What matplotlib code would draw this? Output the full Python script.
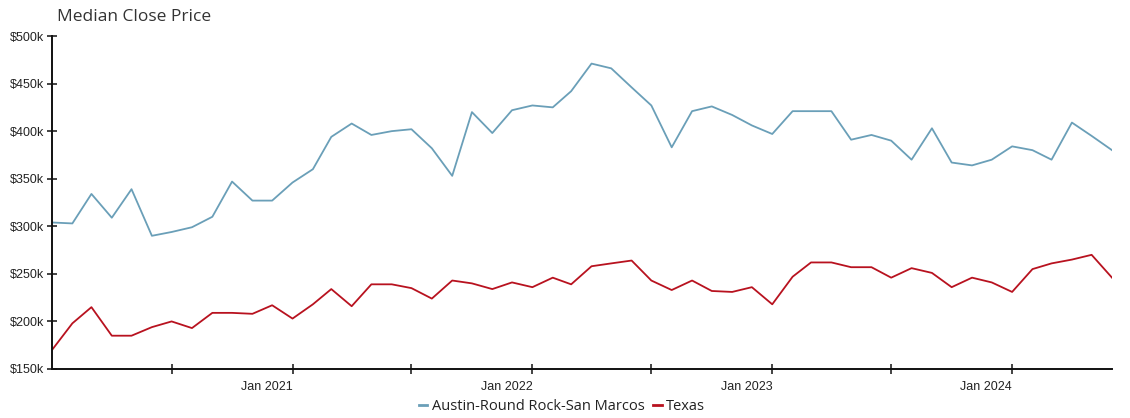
#!/usr/bin/env python3
"""Median close price: Austin-Round Rock-San Marcos vs Texas, monthly."""

import matplotlib
matplotlib.use("Agg")
import matplotlib.pyplot as plt
import matplotlib.dates as mdates
from matplotlib.lines import Line2D
from matplotlib.ticker import FuncFormatter
import pandas as pd

# monthly, Jan 2020 .. Jun 2024 (values in $k)
MONTHS = pd.date_range("2020-01-01", "2024-06-01", freq="MS")

AUSTIN = [
    304, 303, 334, 309, 339, 290, 294, 299, 310, 347, 327, 327,
    346, 360, 394, 408, 396, 400, 402, 382, 353, 420, 398, 422,
    427, 425, 442, 471, 466, 446, 427, 383, 421, 426, 417, 406,
    397, 421, 421, 421, 391, 396, 390, 370, 403, 367, 364, 370,
    384, 380, 370, 409, 395, 380,
]
TEXAS = [
    170, 198, 215, 185, 185, 194, 200, 193, 209, 209, 208, 217,
    203, 218, 234, 216, 239, 239, 235, 224, 243, 240, 234, 241,
    236, 246, 239, 258, 261, 264, 243, 233, 243, 232, 231, 236,
    218, 247, 262, 262, 257, 257, 246, 256, 251, 236, 246, 241,
    231, 255, 261, 265, 270, 246,
]

SERIES = [
    ("Austin-Round Rock-San Marcos", AUSTIN, "#6a9fb8"),
    ("Texas", TEXAS, "#b8121f"),
]

TICK_FONT = ["Liberation Sans", "DejaVu Sans"]
TEXT_FONT = ["Open Sans", "DejaVu Sans"]


def main() -> None:
    fig = plt.figure(figsize=(11.3, 4.18), dpi=100)
    ax = fig.add_axes([52 / 1130, 1 - 369 / 418, 1060 / 1130, 333 / 418])

    for name, values, color in SERIES:
        ax.plot(MONTHS, values, color=color, linewidth=1.3, label=name)

    ax.set_ylim(150, 500)
    ax.set_yticks(range(150, 501, 50))
    ax.yaxis.set_major_formatter(FuncFormatter(lambda v, _: f"${v:.0f}k"))
    ax.set_xlim(MONTHS[0], MONTHS[-1])

    half_years = pd.date_range("2020-07-01", "2024-01-01", freq="6MS")
    ax.set_xticks(half_years)
    ax.set_xticklabels(
        [d.strftime("%b %Y") if d.month == 1 else "" for d in half_years],
        ha="right",
    )

    for spine in ("top", "right"):
        ax.spines[spine].set_visible(False)
    for spine in ("left", "bottom"):
        ax.spines[spine].set_linewidth(1.4)
        ax.spines[spine].set_color("#111111")

    ax.tick_params(axis="both", direction="inout", length=7, width=1.1,
                   colors="#111111", labelsize=9)
    ax.tick_params(axis="y", pad=2)
    ax.tick_params(axis="x", pad=5)
    for lbl in ax.get_xticklabels() + ax.get_yticklabels():
        lbl.set_family(TICK_FONT)
        lbl.set_color("#222222")

    fig.text(57 / 1130, 1 - 17 / 418, "Median Close Price", family=TEXT_FONT,
             fontsize=12.5, color="#333333", va="center", ha="left")

    handles = [Line2D([0], [0], color=c, linewidth=2.0) for _, _, c in SERIES]
    fig.legend(
        handles,
        [name for name, _, _ in SERIES],
        loc="center",
        bbox_to_anchor=(562 / 1130, 1 - 407 / 418),
        ncol=2,
        frameon=False,
        handlelength=0.6,
        handletextpad=0.3,
        columnspacing=0.6,
        prop={"family": TEXT_FONT, "size": 10.5},
        labelcolor="#222222",
    )

    fig.savefig("out.png", dpi=100, facecolor="white")
    plt.close(fig)


if __name__ == "__main__":
    main()
